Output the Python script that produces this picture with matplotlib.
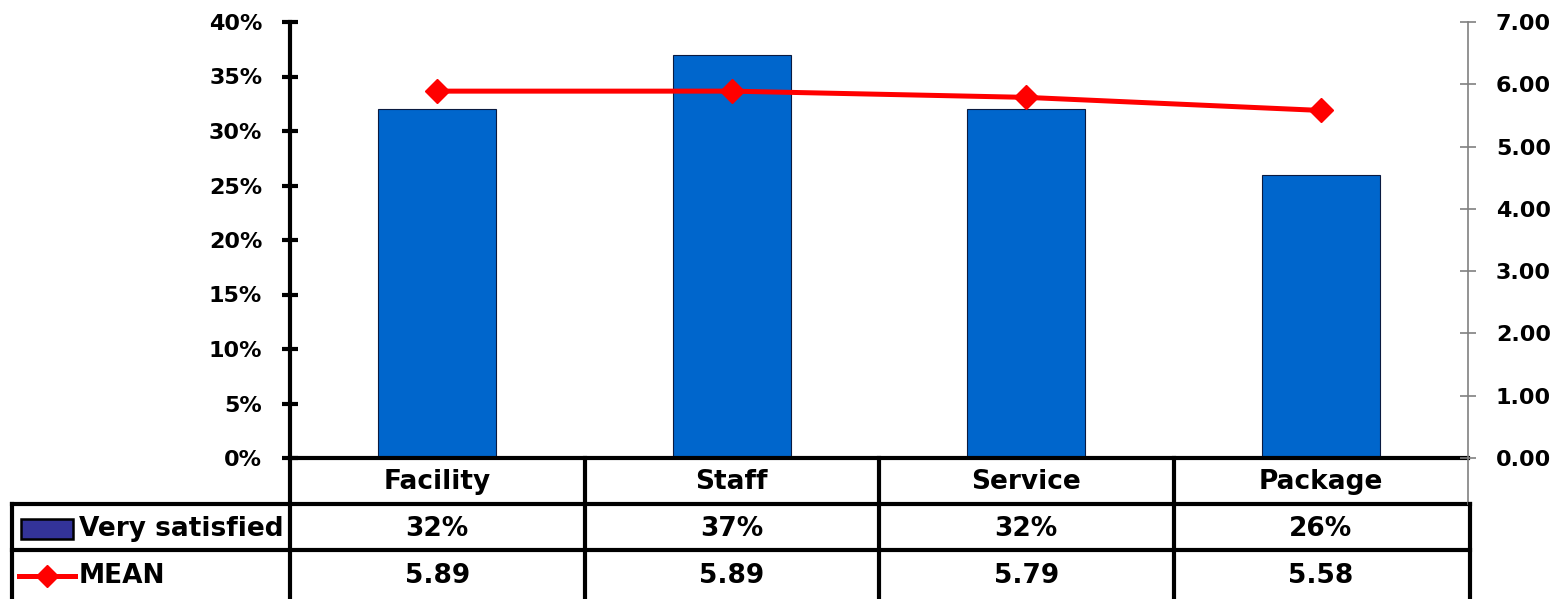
import matplotlib
matplotlib.use("Agg")
import matplotlib.pyplot as plt
from matplotlib.lines import Line2D
from matplotlib.patches import Rectangle
from matplotlib.ticker import FuncFormatter, MultipleLocator
from matplotlib.transforms import blended_transform_factory
import numpy as np

categories = ["Facility", "Staff", "Service", "Package"]
very_satisfied = [32, 37, 32, 26]          # percent
mean_scores = [5.89, 5.89, 5.79, 5.58]
series_names = ["Very satisfied", "MEAN"]

W, H = 1554, 599
plt.rcParams['font.family'] = ['DejaVu Sans']
plt.rcParams['font.weight'] = 'bold'
FS = 16
TFS = 19

fig = plt.figure(figsize=(W / 100, H / 100), dpi=100)

def fx(px):
    return px / W

def fy(py):
    return 1 - py / H

L, R, T, B = 290, 1468, 22, 458
ax = fig.add_axes([fx(L), fy(B), (R - L) / W, (B - T) / H])
x = np.arange(len(categories))
bar_color = "#0066CC"
ax.bar(x, very_satisfied, width=0.4, color=bar_color, edgecolor="#0A1A40", linewidth=0.8, zorder=2)
ax.set_xlim(-0.5, len(categories) - 0.5)
ax.set_ylim(0, 40)
ax.yaxis.set_major_locator(MultipleLocator(5))
ax.yaxis.set_major_formatter(FuncFormatter(lambda v, p: f"{v:.0f}%"))
ax.set_xticks([])
for s in ["top", "right"]:
    ax.spines[s].set_visible(False)
ax.spines["left"].set_linewidth(3)
ax.spines["bottom"].set_linewidth(3)
ax.tick_params(axis="y", direction="inout", length=12, width=3, labelsize=FS, pad=14, colors="black")

ax2 = ax.twinx()
ax2.plot(x, mean_scores, color="#FF0000", linewidth=3.6, marker="D", markersize=12.5,
         markeredgecolor="#FF0000", zorder=3)
ax2.set_ylim(0, 7)
ax2.yaxis.set_major_locator(MultipleLocator(1))
ax2.yaxis.set_major_formatter(FuncFormatter(lambda v, p: f"{v:.2f}"))
for s in ["top", "left", "bottom"]:
    ax2.spines[s].set_visible(False)
ax2.spines["right"].set_color("#808080")
ax2.spines["right"].set_linewidth(1.2)
ax2.tick_params(axis="y", direction="inout", length=12, width=1.2, color="#808080",
                labelcolor="black", labelsize=FS, pad=14)

# data table grid
def hline(y, x0, x1, lw=3, color="black"):
    fig.add_artist(Line2D([fx(x0), fx(x1)], [fy(y), fy(y)], color=color, linewidth=lw, solid_capstyle="projecting"))

def vline(xp, y0, y1, lw=3, color="black"):
    fig.add_artist(Line2D([fx(xp), fx(xp)], [fy(y0), fy(y1)], color=color, linewidth=lw, solid_capstyle="projecting"))

hline(504, 12, 1470)
hline(550, 12, 1470)
vline(12, 504, 610)
col_edges = [L + i * (R - L) / len(categories) for i in range(len(categories) + 1)]
for cx in col_edges[:-1]:
    vline(cx, 458, 610)
vline(R, 458, 504, lw=1.2, color="#808080")
vline(R + 2, 504, 610)

# table text
tr = blended_transform_factory(ax.transData, fig.transFigure)
text_y = [482, 529, 576]
for i, c in enumerate(categories):
    fig.text(x[i], fy(text_y[0]), c, transform=tr, ha="center", va="center", fontsize=TFS, fontweight="bold")
    fig.text(x[i], fy(text_y[1]), f"{very_satisfied[i]}%", transform=tr, ha="center", va="center", fontsize=TFS, fontweight="bold")
    fig.text(x[i], fy(text_y[2]), f"{mean_scores[i]:.2f}", transform=tr, ha="center", va="center", fontsize=TFS, fontweight="bold")

# legend keys
fig.add_artist(Rectangle((fx(21), fy(539)), (73 - 21) / W, (539 - 519) / H, facecolor="#333399",
                         edgecolor="black", linewidth=1.8, transform=fig.transFigure))
fig.add_artist(Line2D([fx(19), fx(75)], [fy(576), fy(576)], color="#FF0000", linewidth=3.6))
fig.add_artist(Line2D([fx(47)], [fy(576)], color="#FF0000", marker="D", markersize=11, linestyle="none"))
fig.text(fx(79), fy(text_y[1]), series_names[0], ha="left", va="center", fontsize=TFS, fontweight="bold")
fig.text(fx(79), fy(text_y[2]), series_names[1], ha="left", va="center", fontsize=TFS, fontweight="bold")

fig.savefig("out.png", dpi=100)
